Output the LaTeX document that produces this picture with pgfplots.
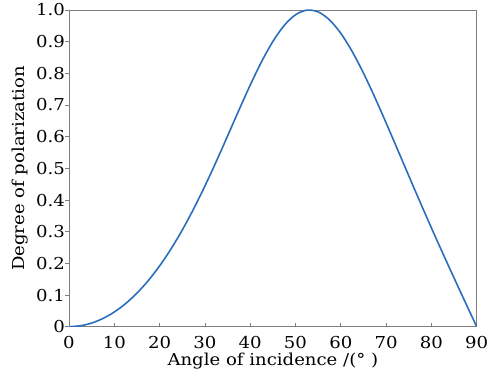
\documentclass[border=0pt]{standalone}
\usepackage{fontspec}
\setmainfont[FakeStretch=1.1]{DejaVu Serif}
\usepackage{pgfplots}
\pgfplotsset{compat=1.18}
\definecolor{curve}{HTML}{2A6EBB}
\definecolor{axgray}{HTML}{7F7F7F}
\begin{document}
\fontsize{16.5}{19}\selectfont
\begin{tikzpicture}
\begin{axis}[
  scale only axis,
  width=407.7bp, height=316.7bp,
  xmin=0, xmax=90, ymin=0, ymax=1,
  xtick={0,10,...,90},
  ytick={0,0.1,...,1.0},
  yticklabels={0,0.1,0.2,0.3,0.4,0.5,0.6,0.7,0.8,0.9,1.0},
  axis line style={axgray, line width=1pt},
  tick style={axgray, line width=0.8pt},
  xtick pos=bottom, ytick pos=left,
  xtick align=inside, ytick align=outside,
  major tick length=4bp,
  /pgf/number format/assume math mode=true,
  tick label style={font=\fontsize{16.5}{19}\selectfont},
  label style={font=\fontsize{16.5}{19}\selectfont},
  xticklabel style={anchor=base, inner sep=0pt, yshift=-21.8bp},
  yticklabel style={anchor=east, inner sep=0pt},
  xlabel={Angle of incidence /(°\ )},
  ylabel={Degree of polarization},
  every axis x label/.style={at={(axis description cs:0.5,0)}, anchor=base, inner sep=0pt, yshift=-38.3bp},
  every axis y label/.style={at={(axis description cs:-0.119,0.5)}, rotate=90, anchor=center, inner sep=0pt},
]
\addplot[curve, line width=1.6pt, smooth] coordinates {
(0,0) (2.5,0.0029) (5,0.0115) (7.5,0.0260) (10,0.0464) (12.5,0.0730) (15,0.1060)
(17.5,0.1456) (20,0.1919) (22.5,0.2451) (25,0.3051) (27.5,0.3716) (30,0.4441)
(32.5,0.5214) (35,0.6020) (37.5,0.6835) (40,0.7628) (42.5,0.8365)
(45,0.9006) (47.5,0.9512) (50,0.9849) (52.5,0.9995) (55,0.9940)
(57.5,0.9689) (60,0.9264) (62.5,0.8692) (65,0.8008) (67.5,0.7246) (70,0.6436)
(72.5,0.5603) (75,0.4766) (77.5,0.3936)
(80,0.3121) (82.5,0.2322) (85,0.1539) (87.5,0.0765) (90,0)
};
\end{axis}
\pgfresetboundingbox
\path[use as bounding box] (-69bp,-46.3bp) rectangle (418bp,326.7bp);
\end{tikzpicture}
\end{document}
